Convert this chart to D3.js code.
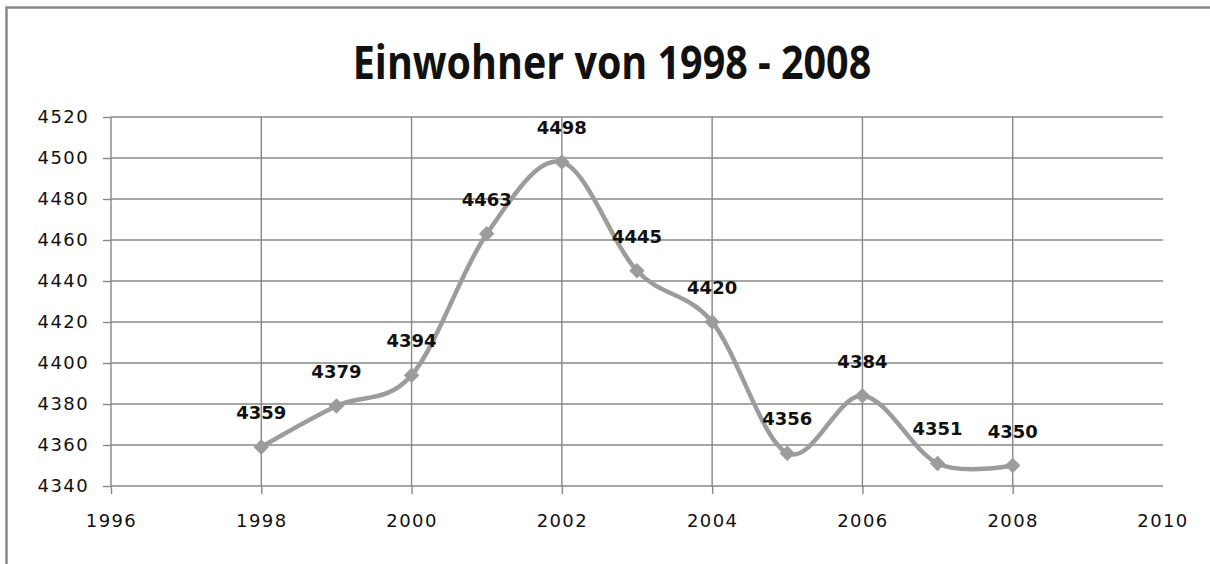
<!DOCTYPE html>
<html>
<head>
<meta charset="utf-8">
<script src="https://cdn.jsdelivr.net/npm/d3@7"></script>
<style>
    html, body { margin: 0; padding: 0; background: #fff; }
    svg { display: block; }
    .grid line { stroke: #888; stroke-width: 1.4px; }
    .axis path, .axis line { stroke: #888; stroke-width: 1.4px; }
    .axis text { font-family: "DejaVu Sans", sans-serif; font-size: 18px; fill: #111; letter-spacing: 1.4px; }
    .title { font-family: "Open Sans", sans-serif; font-weight: bold; font-size: 47px; fill: #111; }
    .label { font-family: "DejaVu Sans", sans-serif; font-weight: bold; font-size: 18px; fill: #111; }
</style>
</head>
<body>
<div id="chart"></div>
<script>
const titleText = "Einwohner von 1998 - 2008";
const years = [1998, 1999, 2000, 2001, 2002, 2003, 2004, 2005, 2006, 2007, 2008];
const residents = [4359, 4379, 4394, 4463, 4498, 4445, 4420, 4356, 4384, 4351, 4350];
const xTicks = [1996, 1998, 2000, 2002, 2004, 2006, 2008, 2010];
const yTicks = [4340, 4360, 4380, 4400, 4420, 4440, 4460, 4480, 4500, 4520];

const svgWidth = 1210, svgHeight = 564;
const margin = {top: 117, right: 47, bottom: 78, left: 111};
const width = svgWidth - margin.left - margin.right,
    height = svgHeight - margin.top - margin.bottom;

const data = years.map((year, i) => ({year: year, value: residents[i]}));

const root = d3.select("#chart").append("svg")
    .attr("width", svgWidth)
    .attr("height", svgHeight);

// outer chart frame, runs off the bottom and right edge like the original
root.append("rect")
    .attr("x", 6.5)
    .attr("y", 7.5)
    .attr("width", svgWidth + 20)
    .attr("height", svgHeight + 20)
    .attr("fill", "none")
    .attr("stroke", "#888")
    .attr("stroke-width", 2.5);

// the original title font is narrow, so squeeze it a bit
root.append("text")
    .attr("class", "title")
    .attr("transform", "translate(612,79) scale(0.84,1)")
    .attr("text-anchor", "middle")
    .text(titleText);

const svg = root.append("g")
    .attr("transform", `translate(${margin.left},${margin.top})`);

const x = d3.scaleLinear()
    .domain([1996, 2010])
    .range([0, width]);

const y = d3.scaleLinear()
    .domain([4340, 4520])
    .range([height, 0]);

svg.append("g")
    .attr("class", "grid")
    .selectAll("line.h")
    .data(yTicks)
    .enter().append("line")
    .attr("x1", 0)
    .attr("x2", width)
    .attr("y1", d => y(d))
    .attr("y2", d => y(d));

svg.append("g")
    .attr("class", "grid")
    .selectAll("line.v")
    .data(xTicks.filter(d => d > 1996 && d < 2010))
    .enter().append("line")
    .attr("x1", d => x(d))
    .attr("x2", d => x(d))
    .attr("y1", 0)
    .attr("y2", height);

const xAxis = d3.axisBottom(x)
    .tickValues(xTicks.filter(d => d < 2010))
    .tickSize(8)
    .tickPadding(20)
    .tickFormat(d3.format("d"));

const yAxis = d3.axisLeft(y)
    .tickValues(yTicks)
    .tickSize(8)
    .tickPadding(14)
    .tickFormat(d3.format("d"));

svg.append("g")
    .attr("class", "x axis")
    .attr("transform", `translate(0,${height})`)
    .call(xAxis)
    .call(g => g.select(".domain").remove());

// label for 2010 without a tick mark
svg.select(".x.axis").append("text")
    .attr("x", x(2010))
    .attr("y", 28)
    .attr("dy", "0.71em")
    .attr("text-anchor", "middle")
    .text("2010");

svg.append("g")
    .attr("class", "y axis")
    .call(yAxis)
    .call(g => g.select(".domain").remove());

svg.append("line")
    .attr("class", "axisline")
    .attr("x1", 0).attr("x2", 0)
    .attr("y1", 0).attr("y2", height)
    .attr("stroke", "#888").attr("stroke-width", 1.4);

const line = d3.line()
    .x(d => x(d.year))
    .y(d => y(d.value))
    .curve(d3.curveCardinal.tension(0));

svg.append("path")
    .datum(data)
    .attr("fill", "none")
    .attr("stroke", "#9c9c9c")
    .attr("stroke-width", 4.5)
    .attr("d", line);

svg.selectAll(".point")
    .data(data)
    .enter().append("path")
    .attr("class", "point")
    .attr("d", d3.symbol().type(d3.symbolSquare).size(120))
    .attr("transform", d => `translate(${x(d.year)},${y(d.value)}) rotate(45)`)
    .attr("fill", "#9c9c9c");

svg.selectAll(".label")
    .data(data)
    .enter().append("text")
    .attr("class", "label")
    .attr("x", d => x(d.year))
    .attr("y", d => y(d.value) - 28)
    .attr("text-anchor", "middle")
    .text(d => d.value);
</script>
</body>
</html>
